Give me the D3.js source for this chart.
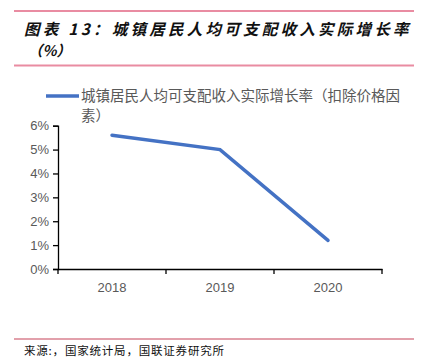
<!DOCTYPE html>
<html><head><meta charset="utf-8">
<script src="https://cdn.jsdelivr.net/npm/d3@7"></script>
<style>body{margin:0;background:#fff;} svg{display:block;}</style>
</head><body>
<script>
const categories = ["2018", "2019", "2020"];
const values = [5.6, 5.0, 1.2];
const yTicks = [0, 1, 2, 3, 4, 5, 6];
const seriesName = "城镇居民人均可支配收入实际增长率（扣除价格因素）";
const titleLine1 = "图表 13：城镇居民人均可支配收入实际增长率";
const titleLine2 = "（%）";
const sourceText = "来源:，国家统计局，国联证券研究所";

const W = 428, H = 361;
const svg = d3.select("body").append("svg").attr("width", W).attr("height", H);
const cjk = "'Noto Sans CJK SC', sans-serif";

// header lines
svg.append("line").attr("x1", 14).attr("x2", 414).attr("y1", 11).attr("y2", 11)
  .attr("stroke", "#E98CA2").attr("stroke-width", 2);
svg.append("line").attr("x1", 14).attr("x2", 414).attr("y1", 65.5).attr("y2", 65.5)
  .attr("stroke", "#E98CA2").attr("stroke-width", 2);
svg.append("text").attr("x", 24).attr("y", 35).text(titleLine1)
  .attr("font-family", cjk).attr("font-size", 15.5).attr("font-weight", 600)
  .attr("font-style", "italic").attr("letter-spacing", 3.25).attr("fill", "#111");
svg.append("text").attr("x", 28).attr("y", 56).text(titleLine2)
  .attr("font-family", cjk).attr("font-size", 14.5).attr("font-weight", 600)
  .attr("font-style", "italic").attr("fill", "#111");

// legend
svg.append("line").attr("x1", 46).attr("x2", 79).attr("y1", 96).attr("y2", 96)
  .attr("stroke", "#4472C4").attr("stroke-width", 3.5);
const leg = svg.append("text").attr("font-family", cjk).attr("font-size", 14.5).attr("fill", "#595959");
leg.append("tspan").attr("x", 81).attr("y", 101).text(seriesName.slice(0, 22));
leg.append("tspan").attr("x", 81).attr("y", 121).text(seriesName.slice(22));

// scales
const x = d3.scaleBand().domain(categories).range([58, 382]);
const y = d3.scaleLinear().domain([0, 6]).range([269, 125.7]);

const yAxis = svg.append("g").attr("transform", "translate(58,0)")
  .call(d3.axisLeft(y).tickValues(yTicks).tickFormat(d => d + "%").tickSize(5).tickPadding(4));
yAxis.select(".domain").attr("stroke", "#000").attr("stroke-width", 1.3);
yAxis.selectAll(".tick line").attr("stroke", "#000").attr("stroke-width", 1.3);
yAxis.selectAll("text").attr("font-family", "'Liberation Sans', Arial, sans-serif")
  .attr("font-size", 13).attr("fill", "#595959");

const xAxis = svg.append("g").attr("transform", "translate(0,269)")
  .call(d3.axisBottom(x).tickSize(0).tickPadding(14));
xAxis.select(".domain").attr("stroke", "#000").attr("stroke-width", 1.3);
xAxis.selectAll("text").attr("font-family", "'Liberation Sans', Arial, sans-serif")
  .attr("font-size", 13).attr("fill", "#595959");
// category boundary ticks
const bounds = categories.map(c => x(c)).concat([x.range()[1]]);
svg.append("g").selectAll("line").data(bounds).join("line")
  .attr("x1", d => d).attr("x2", d => d).attr("y1", 269).attr("y2", 274)
  .attr("stroke", "#000").attr("stroke-width", 1.3);

// line series
const line = d3.line().x((d, i) => x(categories[i]) + x.bandwidth() / 2).y(d => y(d));
svg.append("path").datum(values).attr("d", line).attr("fill", "none")
  .attr("stroke", "#4472C4").attr("stroke-width", 3.5).attr("stroke-linecap", "round");

// footer
svg.append("line").attr("x1", 14).attr("x2", 414).attr("y1", 339).attr("y2", 339)
  .attr("stroke", "#D9808F").attr("stroke-width", 1.5);
svg.append("text").attr("x", 24).attr("y", 355).text(sourceText)
  .attr("font-family", cjk).attr("font-size", 11.5).attr("fill", "#111").attr("letter-spacing", 0.8);
</script>
</body></html>
